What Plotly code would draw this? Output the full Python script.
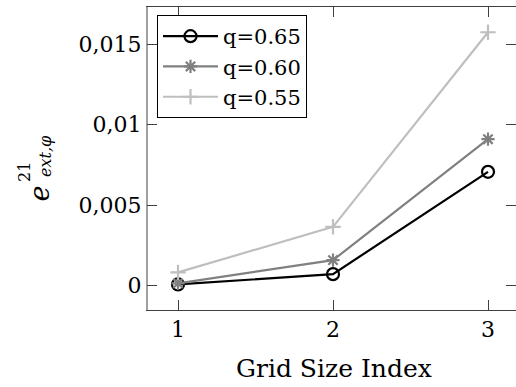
import plotly.graph_objects as go

grid_index = [1, 2, 3]
q065 = [0.00007, 0.00071, 0.00707]
q060 = [0.00014, 0.00158, 0.0091]
q055 = [0.00082, 0.00365, 0.01575]
series_names = ["q=0.65", "q=0.60", "q=0.55"]
y_tick_vals = [0, 0.005, 0.01, 0.015]
y_tick_text = ["0", "0,005", "0,01", "0,015"]
x_tick_vals = [1, 2, 3]

FONT = "DejaVu Serif"
W, H = 516, 387
ML, MR, MT, MB = 147, 0, 7, 77
PW, PH = W - ML - MR, H - MT - MB

def px(x):
    return (x - ML) / PW

def py(y):
    return (H - MB - y) / PH

fig = go.Figure()
styles = [
    dict(color="black", symbol="circle-open", size=12),
    dict(color="#808080", symbol="asterisk-open", size=11),
    dict(color="#bfbfbf", symbol="cross-thin-open", size=11),
]
for name, vals, st in zip(series_names, [q065, q060, q055], styles):
    fig.add_trace(go.Scatter(
        x=grid_index, y=vals, name=name, mode="lines+markers",
        line=dict(color=st["color"], width=2.2),
        marker=dict(symbol=st["symbol"], size=st["size"], color=st["color"],
                    line=dict(color=st["color"], width=2.2)),
    ))

axis_common = dict(ticks="inside", ticklen=10, tickwidth=1, tickcolor="#404040",
                   showgrid=False, zeroline=False,
                   tickfont=dict(family=FONT, size=22, color="black"))
fig.update_xaxes(range=[0.8, 0.8 + PW / 155.0], tickvals=x_tick_vals,
                 showline=True, linecolor="#404040", linewidth=1, mirror="ticks",
                 **axis_common)
fig.update_yaxes(range=[-0.00152, 0.01732], tickvals=y_tick_vals, ticktext=y_tick_text,
                 showline=True, linecolor="rgba(0,0,0,0)", linewidth=1, mirror="ticks",
                 **axis_common)

fig.add_shape(type="line", xref="paper", yref="paper", x0=0, x1=0, y0=0, y1=1,
              line=dict(color="#404040", width=1))

fig.add_annotation(text="Grid Size Index", xref="paper", yref="paper",
                   x=px(333.5), y=py(368.5), showarrow=False,
                   xanchor="center", yanchor="middle",
                   font=dict(family=FONT, size=25, color="black"))
fig.add_annotation(text="<i>e</i>", xref="paper", yref="paper",
                   x=px(39), y=py(193.5), showarrow=False, textangle=-90,
                   xanchor="center", yanchor="middle",
                   font=dict(family=FONT, size=27, color="black"))
fig.add_annotation(text="21", xref="paper", yref="paper",
                   x=px(24.5), y=py(172.5), showarrow=False, textangle=-90,
                   xanchor="center", yanchor="middle",
                   font=dict(family=FONT, size=16, color="black"))
fig.add_annotation(text="<i>ext,φ</i>", xref="paper", yref="paper",
                   x=px(45.5), y=py(156.5), showarrow=False, textangle=-90,
                   xanchor="center", yanchor="middle",
                   font=dict(family=FONT, size=16, color="black"))

fig.update_layout(
    width=W, height=H, margin=dict(l=ML, r=MR, t=MT, b=MB),
    paper_bgcolor="white", plot_bgcolor="white",
    font=dict(family=FONT, color="black"),
    showlegend=True,
    legend=dict(x=px(157), y=py(15), xanchor="left", yanchor="top",
                bordercolor="black", borderwidth=1, bgcolor="white",
                font=dict(family=FONT, size=21, color="black"),
                tracegroupgap=0, itemwidth=55),
)

fig.write_html("out.html")
